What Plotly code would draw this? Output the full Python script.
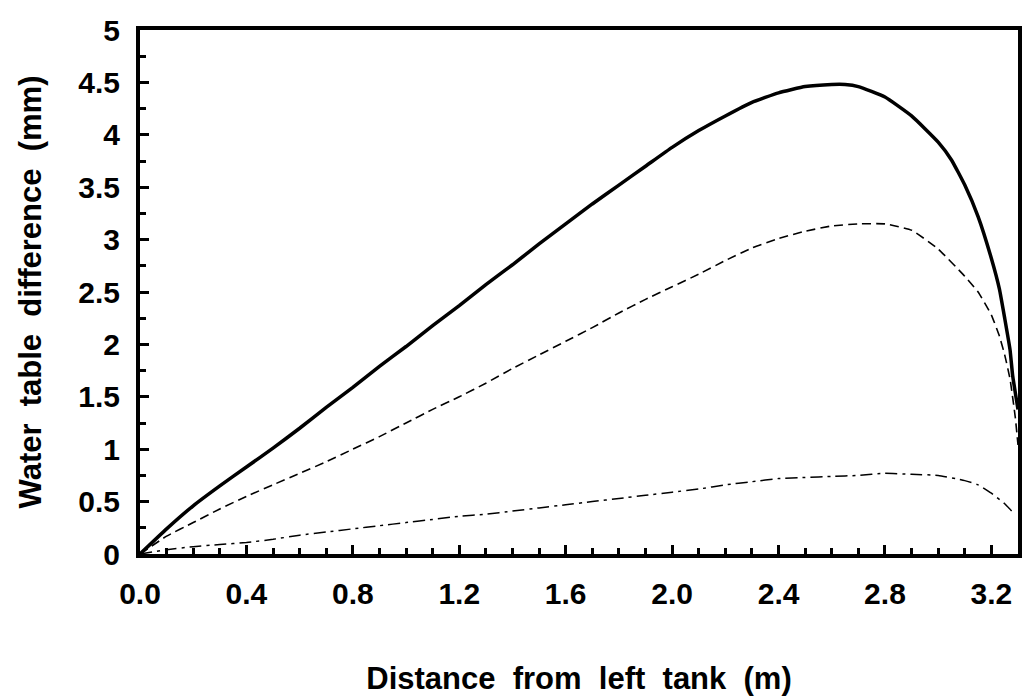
import plotly.graph_objects as go

# Distance from left tank (m)
x_solid = [0, 0.1, 0.2, 0.3, 0.4, 0.5, 0.6, 0.7, 0.8, 0.9, 1.0, 1.1, 1.2, 1.3, 1.4, 1.5, 1.6, 1.7, 1.8, 1.9,
           2.0, 2.1, 2.2, 2.3, 2.4, 2.5, 2.6, 2.65, 2.7, 2.8, 2.9, 3.0, 3.05, 3.1, 3.15, 3.2, 3.23, 3.25, 3.27, 3.28, 3.3]
y_solid = [0, 0.24, 0.46, 0.65, 0.83, 1.01, 1.2, 1.4, 1.59, 1.79, 1.98, 2.18, 2.37, 2.57, 2.76, 2.96, 3.15, 3.34, 3.52, 3.70,
           3.88, 4.04, 4.18, 4.31, 4.40, 4.46, 4.48, 4.48, 4.46, 4.36, 4.18, 3.93, 3.76, 3.52, 3.22, 2.82, 2.53, 2.25, 1.95, 1.70, 1.38]

x_dash = [0, 0.1, 0.2, 0.3, 0.4, 0.5, 0.6, 0.7, 0.8, 0.9, 1.0, 1.1, 1.2, 1.3, 1.4, 1.5, 1.6, 1.7, 1.8, 1.9,
          2.0, 2.1, 2.2, 2.3, 2.4, 2.5, 2.6, 2.7, 2.8, 2.9, 3.0, 3.1, 3.15, 3.2, 3.23, 3.25, 3.27, 3.29, 3.3]
y_dash = [0, 0.17, 0.30, 0.43, 0.55, 0.66, 0.77, 0.88, 1.0, 1.12, 1.25, 1.38, 1.50, 1.63, 1.77, 1.90, 2.03, 2.16, 2.30, 2.43,
          2.55, 2.67, 2.80, 2.92, 3.01, 3.08, 3.13, 3.15, 3.15, 3.09, 2.91, 2.65, 2.50, 2.28, 2.08, 1.90, 1.67, 1.30, 1.04]

x_dashdot = [0, 0.1, 0.2, 0.3, 0.4, 0.5, 0.6, 0.7, 0.8, 0.9, 1.0, 1.1, 1.2, 1.3, 1.4, 1.5, 1.6, 1.7, 1.8, 1.9,
             2.0, 2.1, 2.2, 2.3, 2.4, 2.5, 2.6, 2.7, 2.8, 2.9, 3.0, 3.1, 3.15, 3.2, 3.25, 3.28]
y_dashdot = [0, 0.04, 0.07, 0.09, 0.11, 0.14, 0.18, 0.21, 0.24, 0.27, 0.30, 0.33, 0.36, 0.38, 0.41, 0.44, 0.47, 0.50, 0.53, 0.56,
             0.59, 0.62, 0.66, 0.69, 0.72, 0.73, 0.74, 0.75, 0.77, 0.76, 0.75, 0.70, 0.66, 0.58, 0.48, 0.40]

x_tickvals = [0.0, 0.4, 0.8, 1.2, 1.6, 2.0, 2.4, 2.8, 3.2]
x_ticktext = ["0.0", "0.4", "0.8", "1.2", "1.6", "2.0", "2.4", "2.8", "3.2"]
y_tickvals = [0, 0.5, 1, 1.5, 2, 2.5, 3, 3.5, 4, 4.5, 5]
y_ticktext = ["0", "0.5", "1", "1.5", "2", "2.5", "3", "3.5", "4", "4.5", "5"]

FONT = "Arial, 'Liberation Sans', sans-serif"

fig = go.Figure()
fig.add_trace(go.Scatter(x=x_solid, y=y_solid, mode="lines",
                         line=dict(color="black", width=3.5, shape="spline", smoothing=0.4)))
fig.add_trace(go.Scatter(x=x_dash, y=y_dash, mode="lines",
                         line=dict(color="black", width=1.6, dash="9px,5px", shape="spline", smoothing=0.4)))
fig.add_trace(go.Scatter(x=x_dashdot, y=y_dashdot, mode="lines",
                         line=dict(color="black", width=1.5, dash="12px,5px,3px,5px", shape="spline", smoothing=0.4)))

axis_common = dict(
    showgrid=False, zeroline=False, showline=True, linecolor="black", linewidth=4,
    mirror=True, ticks="inside", tickcolor="black", tickwidth=3,
    tickfont=dict(family=FONT, size=30, color="black", weight="bold"),
)

fig.update_layout(
    width=1024, height=696,
    margin=dict(l=140, r=2, t=30, b=140),
    paper_bgcolor="white", plot_bgcolor="white",
    showlegend=False,
    font=dict(family=FONT, color="black"),
    xaxis=dict(
        range=[0, 3.3], tickmode="array", tickvals=x_tickvals, ticktext=x_ticktext,
        ticklen=9, ticklabelstandoff=10,
        minor=dict(dtick=0.1, tick0=0, ticks="inside", ticklen=6, tickwidth=3, tickcolor="black"),
        title=dict(text="Distance  from  left  tank  (m)", standoff=62,
                   font=dict(family=FONT, size=31, color="black", weight="bold")),
        **axis_common,
    ),
    yaxis=dict(
        range=[0, 5], tickmode="array", tickvals=y_tickvals, ticktext=y_ticktext,
        ticklen=9, ticklabelstandoff=10,
        minor=dict(dtick=0.25, tick0=0, ticks="inside", ticklen=6, tickwidth=3, tickcolor="black"),
        title=dict(text="Water  table  difference  (mm)", standoff=28,
                   font=dict(family=FONT, size=31, color="black", weight="bold")),
        **axis_common,
    ),
)

fig.write_html("out.html")
